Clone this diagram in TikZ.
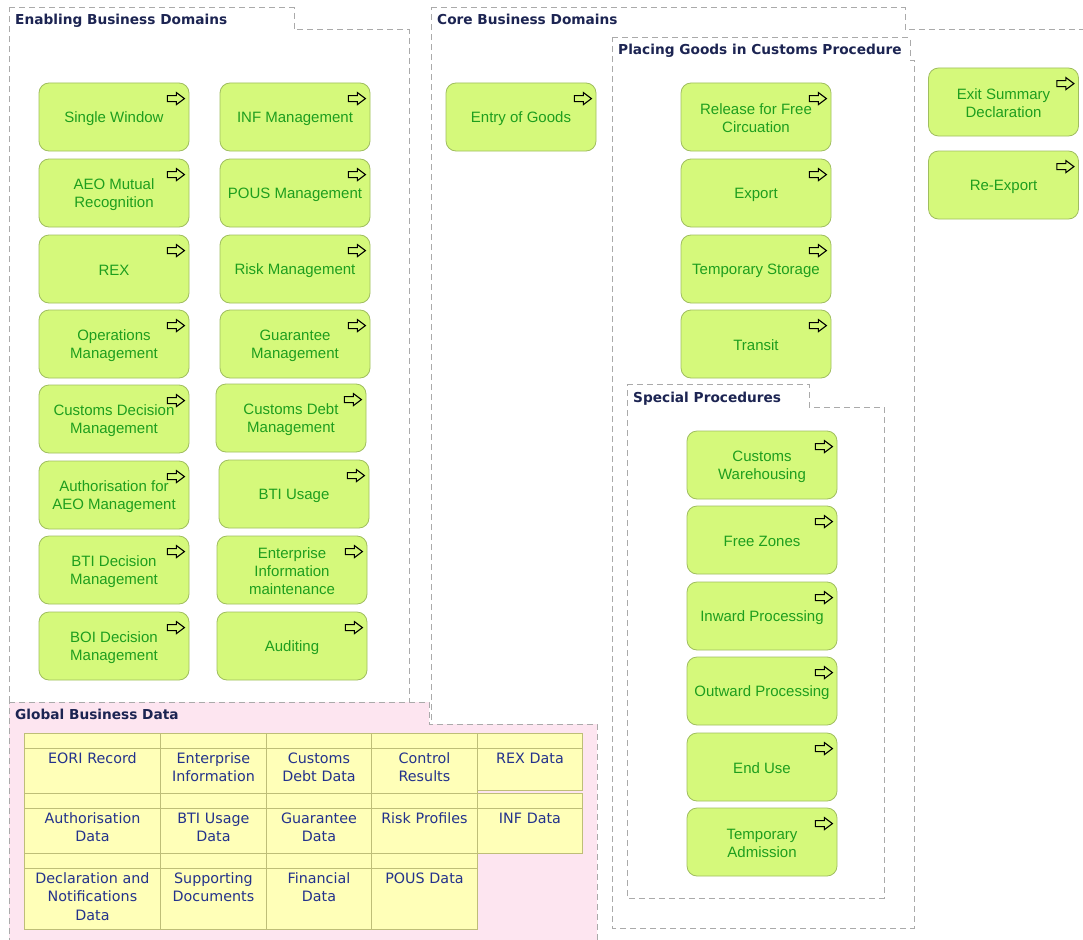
\documentclass[tikz,border=0pt]{standalone}
\usepackage{fontspec}
\newfontfamily\boxfont{Liberation Sans}
\newfontfamily\djfont{DejaVu Sans}
\usetikzlibrary{calc}
\definecolor{grpline}{RGB}{170,170,170}
\definecolor{procfill}{RGB}{213,249,123}
\definecolor{procdraw}{RGB}{160,190,95}
\definecolor{proctext}{RGB}{30,158,30}
\definecolor{hdrtext}{RGB}{28,36,82}
\definecolor{pinkfill}{RGB}{253,229,240}
\definecolor{cellfill}{RGB}{255,255,184}
\definecolor{celldraw}{RGB}{190,190,120}
\definecolor{celltextc}{RGB}{35,50,140}
\tikzset{
  grp/.style={draw=grpline, line width=1pt, dash pattern=on 6pt off 4pt},
  hdr/.style={font=\djfont\bfseries\fontsize{13.7}{16}\selectfont, text=hdrtext, inner sep=0pt, anchor=base west},
  procnode/.style={draw=procdraw, fill=procfill, line width=0.8pt, rounded corners=10pt,
    minimum width=150pt, minimum height=68pt, inner sep=0pt},
  proclabel/.style={inner sep=0pt, align=center,
    text=proctext, font=\boxfont\fontsize{15}{18}\selectfont},
  procicon/.style={draw=black, line width=1.1pt, line join=miter},
  cellnode/.style={draw=celldraw, fill=cellfill, line width=0.9pt, inner sep=0pt},
  cellline/.style={draw=celldraw, line width=0.9pt},
  celltext/.style={text=celltextc, font=\djfont\fontsize{14.3}{18.5}\selectfont, inner sep=0pt, align=center}
}
\newcommand\procbox[4]{%
  \node[procnode] (#1) at (#2,#3) {};
  \node[proclabel] (#1l) at ($(#1.center)+(0,1.5)$) {#4};
  \draw[procicon] ($(#1.north east)+(-22,13)$) -- ++(9,0) -- ++(0,-3) -- ++(8,6) -- ++(-8,6) -- ++(0,-3) -- ++(-9,0) -- cycle;
}
\newcommand\datacell[6]{%
  \node[cellnode, minimum width={#4-#2}, minimum height={#5-#3}, anchor=north west] (#1) at (#2,#3) {};
  \draw[cellline] ($(#1.north west)+(0,15)$) -- ($(#1.north east)+(0,15)$);
  \node[celltext, text width={#4-#2-4}, anchor=base] (#1t) at ($(#1.north)+(0,30)$) {#6};
}
\begin{document}
\begin{tikzpicture}[x=1pt, y=-1pt]
\useasboundingbox (0,0) rectangle (1083,939);
\clip (0,0) rectangle (1083,939);
\fill[white] (0,0) rectangle (1083,939);

% Enabling Business Domains
\draw[grp] (9,8) -- (294,8) -- (294,30) -- (409,30) -- (409,720) -- (9,720) -- cycle;
\node[hdr] (hEnab) at (15,25) {Enabling Business Domains};

% Core Business Domains
\draw[grp] (431,8) -- (905,8) -- (905,30) -- (1100,30) -- (1100,960) -- (431,960) -- cycle;
\node[hdr] (hCore) at (437,25) {Core Business Domains};

% Placing Goods in Customs Procedure
\draw[grp] (612,38) -- (910,38) -- (910,61) -- (914,61) -- (914,928) -- (612,928) -- cycle;
\node[hdr] (hPlace) at (618,55) {Placing Goods in Customs Procedure};

% Special Procedures
\draw[grp] (627,384) -- (809,384) -- (809,407) -- (884,407) -- (884,898) -- (627,898) -- cycle;
\node[hdr] (hSpec) at (633,402) {Special Procedures};

% Global Business Data
\draw[grp, fill=pinkfill] (9,702) -- (429,702) -- (429,724) -- (597,724) -- (597,950) -- (9,950) -- cycle;
\node[hdr] (hGBD) at (15,719) {Global Business Data};

% Enabling column A
\procbox{sw}{114}{117}{Single Window}
\procbox{aeo}{114}{193}{AEO Mutual\\Recognition}
\procbox{rex}{114}{269}{REX}
\procbox{ops}{114}{344}{Operations\\Management}
\procbox{cdm}{114}{419}{Customs Decision\\Management}
\procbox{aut}{114}{495}{Authorisation for\\AEO Management}
\procbox{btid}{114}{570}{BTI Decision\\Management}
\procbox{boi}{114}{646}{BOI Decision\\Management}
% Enabling column B
\procbox{inf}{295}{117}{INF Management}
\procbox{pous}{295}{193}{POUS Management}
\procbox{risk}{295}{269}{Risk Management}
\procbox{guar}{295}{344}{Guarantee\\Management}
\procbox{debt}{291}{418}{Customs Debt\\Management}
\procbox{btiu}{294}{494}{BTI Usage}
\procbox{ent}{292}{570}{Enterprise\\Information\\maintenance}
\procbox{audit}{292}{646}{Auditing}

% Core
\procbox{entry}{521}{117}{Entry of Goods}
\procbox{rel}{756}{117}{Release for Free\\Circuation}
\procbox{exp}{756}{193}{Export}
\procbox{tmp}{756}{269}{Temporary Storage}
\procbox{trn}{756}{344}{Transit}
\procbox{cw}{762}{465}{Customs\\Warehousing}
\procbox{fz}{762}{540}{Free Zones}
\procbox{ip}{762}{616}{Inward Processing}
\procbox{op}{762}{691}{Outward Processing}
\procbox{eu}{762}{767}{End Use}
\procbox{ta}{762}{842}{Temporary\\Admission}
\procbox{esd}{1003.5}{102}{Exit Summary\\Declaration}
\procbox{rexp}{1003.5}{185}{Re-Export}

% Data table
\datacell{eori}{24}{733}{160}{793}{EORI Record}
\datacell{entinfo}{160}{733}{266}{793}{Enterprise\\Information}
\datacell{debtd}{266}{733}{371}{793}{Customs\\Debt Data}
\datacell{ctrl}{371}{733}{477}{793}{Control\\Results}
\datacell{rexd}{477}{733}{582}{790}{REX Data}
\datacell{authd}{24}{793}{160}{853}{Authorisation\\Data}
\datacell{btid2}{160}{793}{266}{853}{BTI Usage\\Data}
\datacell{guard}{266}{793}{371}{853}{Guarantee\\Data}
\datacell{riskp}{371}{793}{477}{853}{Risk Profiles}
\datacell{infd}{477}{793}{582}{853}{INF Data}
\datacell{decl}{24}{853}{160}{929}{Declaration and\\Notifications\\Data}
\datacell{supp}{160}{853}{266}{929}{Supporting\\Documents}
\datacell{fin}{266}{853}{371}{929}{Financial\\Data}
\datacell{pousd}{371}{853}{477}{929}{POUS Data}
\end{tikzpicture}
\end{document}
